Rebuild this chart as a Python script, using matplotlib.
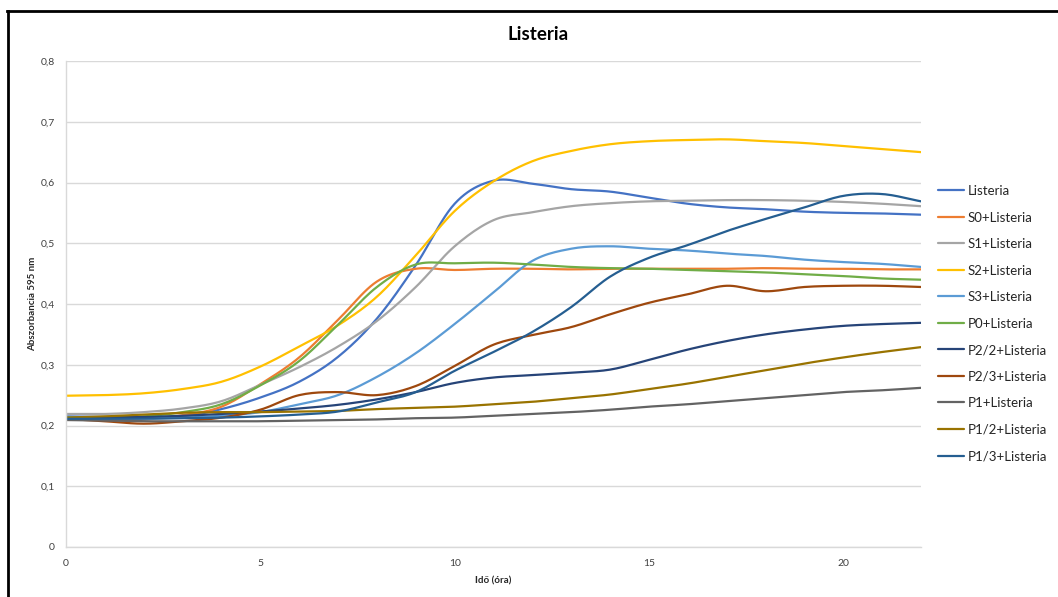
import numpy as np
import matplotlib
matplotlib.use("Agg")
import matplotlib.pyplot as plt
from matplotlib.ticker import FuncFormatter
from matplotlib.lines import Line2D

plt.rcParams['font.family'] = ['Lato', 'DejaVu Sans']

# Idő (óra)
hours = list(range(0, 23))

listeria = [0.215, 0.214, 0.214, 0.215, 0.227, 0.246, 0.272, 0.313, 0.376, 0.464, 0.565, 0.603,
            0.598, 0.589, 0.585, 0.575, 0.565, 0.559, 0.556, 0.552, 0.550, 0.549, 0.547]
s0_listeria = [0.212, 0.211, 0.212, 0.217, 0.231, 0.268, 0.312, 0.374, 0.437, 0.458, 0.456, 0.458,
               0.458, 0.457, 0.458, 0.458, 0.458, 0.458, 0.459, 0.458, 0.458, 0.457, 0.457]
s1_listeria = [0.219, 0.219, 0.222, 0.228, 0.240, 0.267, 0.296, 0.330, 0.372, 0.428, 0.495, 0.538,
               0.551, 0.561, 0.566, 0.569, 0.570, 0.571, 0.571, 0.570, 0.568, 0.565, 0.561]
s2_listeria = [0.249, 0.250, 0.253, 0.260, 0.272, 0.297, 0.330, 0.365, 0.412, 0.480, 0.553, 0.602,
               0.635, 0.652, 0.663, 0.668, 0.670, 0.671, 0.668, 0.665, 0.660, 0.655, 0.650]
s3_listeria = [0.213, 0.212, 0.212, 0.213, 0.216, 0.222, 0.235, 0.250, 0.280, 0.319, 0.367, 0.419,
               0.471, 0.491, 0.495, 0.491, 0.488, 0.483, 0.479, 0.473, 0.469, 0.466, 0.461]
p0_listeria = [0.213, 0.213, 0.215, 0.222, 0.235, 0.266, 0.306, 0.366, 0.428, 0.465, 0.467, 0.468,
               0.465, 0.461, 0.459, 0.458, 0.456, 0.454, 0.452, 0.449, 0.446, 0.442, 0.440]
p22_listeria = [0.212, 0.213, 0.214, 0.216, 0.219, 0.223, 0.228, 0.234, 0.243, 0.255, 0.270, 0.279,
                0.283, 0.287, 0.292, 0.308, 0.325, 0.339, 0.350, 0.358, 0.364, 0.367, 0.369]
p23_listeria = [0.211, 0.207, 0.203, 0.207, 0.213, 0.226, 0.250, 0.255, 0.250, 0.265, 0.298, 0.333,
                0.349, 0.362, 0.383, 0.402, 0.416, 0.430, 0.421, 0.428, 0.430, 0.430, 0.428]
p1_listeria = [0.209, 0.208, 0.207, 0.207, 0.207, 0.207, 0.208, 0.209, 0.210, 0.212, 0.213, 0.216,
               0.219, 0.222, 0.226, 0.231, 0.235, 0.240, 0.245, 0.250, 0.255, 0.258, 0.262]
p12_listeria = [0.213, 0.215, 0.218, 0.221, 0.222, 0.222, 0.223, 0.224, 0.227, 0.229, 0.231, 0.235,
                0.239, 0.245, 0.251, 0.260, 0.269, 0.280, 0.291, 0.302, 0.312, 0.321, 0.329]
p13_listeria = [0.211, 0.211, 0.211, 0.212, 0.213, 0.215, 0.218, 0.223, 0.238, 0.255, 0.290, 0.321,
                0.354, 0.395, 0.445, 0.476, 0.497, 0.520, 0.540, 0.559, 0.578, 0.581, 0.569]

series_names = ["Listeria", "S0+Listeria", "S1+Listeria", "S2+Listeria", "S3+Listeria",
                "P0+Listeria", "P2/2+Listeria", "P2/3+Listeria", "P1+Listeria",
                "P1/2+Listeria", "P1/3+Listeria"]
series_values = [listeria, s0_listeria, s1_listeria, s2_listeria, s3_listeria, p0_listeria,
                 p22_listeria, p23_listeria, p1_listeria, p12_listeria, p13_listeria]
series_colors = ["#4472C4", "#ED7D31", "#A5A5A5", "#FFC000", "#5B9BD5", "#70AD47",
                 "#264478", "#9E480E", "#636363", "#997300", "#255E91"]

y_ticks = [0, 0.1, 0.2, 0.3, 0.4, 0.5, 0.6, 0.7, 0.8]
x_ticks = [0, 5, 10, 15, 20]


def smooth(x, y, steps=12):
    """Catmull-Rom curve through the points, like a smoothed line in a spreadsheet chart."""
    x = np.asarray(x, float)
    y = np.asarray(y, float)
    px = np.concatenate([[2 * x[0] - x[1]], x, [2 * x[-1] - x[-2]]])
    py = np.concatenate([[2 * y[0] - y[1]], y, [2 * y[-1] - y[-2]]])
    xs, ys = [], []
    t = np.linspace(0, 1, steps, endpoint=False)
    for i in range(1, len(px) - 2):
        for arr, out in ((px, xs), (py, ys)):
            p0, p1, p2, p3 = arr[i - 1], arr[i], arr[i + 1], arr[i + 2]
            out.extend(0.5 * (2 * p1 + (-p0 + p2) * t + (2 * p0 - 5 * p1 + 4 * p2 - p3) * t ** 2
                              + (-p0 + 3 * p1 - 3 * p2 + p3) * t ** 3))
    xs.append(x[-1])
    ys.append(y[-1])
    return np.array(xs), np.array(ys)


W, H = 1058, 597
fig = plt.figure(figsize=(W / 100, H / 100), dpi=100)
ax = fig.add_axes([66 / W, (H - 547) / H, (921 - 66) / W, (547 - 61) / H])

for name, vals, col in zip(series_names, series_values, series_colors):
    sx, sy = smooth(hours, vals)
    ax.plot(sx, sy, color=col, lw=1.6, label=name, solid_capstyle='round')

ax.set_xlim(0, 22)
ax.set_ylim(0, 0.8)
ax.set_yticks(y_ticks)
ax.set_xticks(x_ticks)
ax.yaxis.set_major_formatter(FuncFormatter(lambda v, p: ("%g" % round(v, 2)).replace(".", ",")))
ax.grid(axis='y', color='#D9D9D9', lw=1)
ax.set_axisbelow(True)
for side in ('top', 'right'):
    ax.spines[side].set_visible(False)
for side in ('left', 'bottom'):
    ax.spines[side].set_color('#D9D9D9')
    ax.spines[side].set_linewidth(1)
ax.tick_params(length=0, labelsize=7.5, colors='#404040')
ax.tick_params(axis='y', pad=8)
ax.tick_params(axis='x', pad=9)

ax.set_xlabel("Idő (óra)", fontsize=7, fontweight='bold', color='#262626', labelpad=6)
ax.set_ylabel("Abszorbancia 595 nm", fontsize=7, fontweight='bold', color='#262626', labelpad=2.5)

fig.text(538 / W, 1 - 35 / H, "Listeria", fontsize=13.5, fontweight='bold',
         ha='center', va='center', color='#000000')

leg = fig.legend(loc='upper left', bbox_to_anchor=(938 / W, 1 - 185 / H),
                 frameon=False, fontsize=9.5, handlelength=2.0, handletextpad=0.25,
                 labelspacing=1.1, borderaxespad=0, borderpad=0)
for t in leg.get_texts():
    t.set_color('#262626')

# frame edges along the top and left of the figure
fig.add_artist(Line2D([7 / W, 1], [1 - 11 / H, 1 - 11 / H], color='black', lw=2,
                      transform=fig.transFigure))
fig.add_artist(Line2D([7.5 / W, 7.5 / W], [0, 1 - 11 / H], color='black', lw=2,
                      transform=fig.transFigure))

fig.savefig("out.png", dpi=100)
